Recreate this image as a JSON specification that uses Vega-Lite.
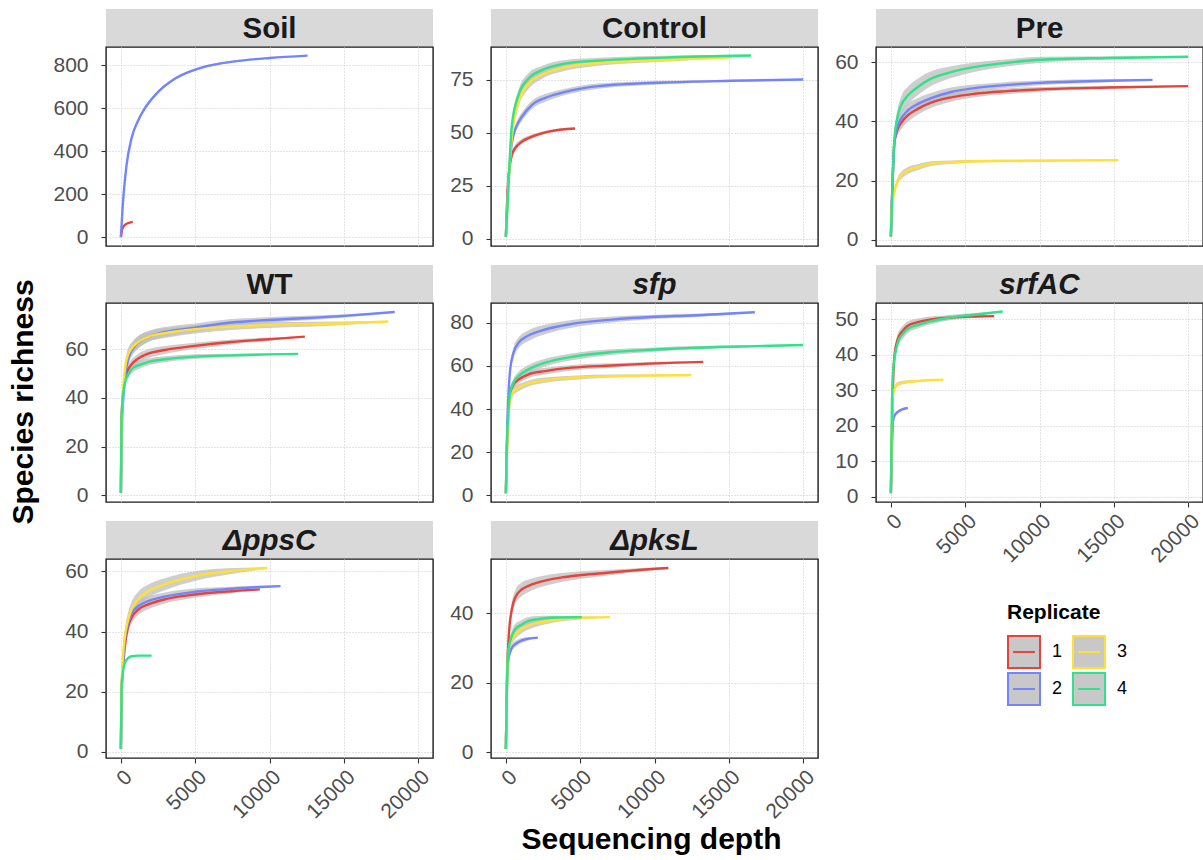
{
"$schema": "https://vega.github.io/schema/vega-lite/v6.json",
"background": "white",
"padding": {"left": 9, "top": 9, "right": 1, "bottom": 5},
"data": {"values": [
{"p":"Soil","r":"1","x":1,"y":1,"lo":1,"hi":1},{"p":"Soil","r":"1","x":100,"y":40,"lo":37,"hi":43},{"p":"Soil","r":"1","x":300,"y":60,"lo":57,"hi":63},{"p":"Soil","r":"1","x":550,"y":68,"lo":66,"hi":70},{"p":"Soil","r":"1","x":800,"y":72,"lo":71,"hi":73},
{"p":"Soil","r":"2","x":1,"y":1,"lo":1,"hi":1},{"p":"Soil","r":"2","x":160,"y":180,"lo":176,"hi":184},{"p":"Soil","r":"2","x":380,"y":335,"lo":329,"hi":341},{"p":"Soil","r":"2","x":720,"y":462,"lo":454,"hi":470},{"p":"Soil","r":"2","x":1170,"y":545,"lo":537,"hi":553},{"p":"Soil","r":"2","x":1610,"y":600,"lo":592,"hi":608},{"p":"Soil","r":"2","x":2510,"y":677,"lo":670,"hi":684},{"p":"Soil","r":"2","x":3630,"y":738,"lo":732,"hi":744},{"p":"Soil","r":"2","x":5430,"y":790,"lo":785,"hi":795},{"p":"Soil","r":"2","x":7670,"y":819,"lo":815,"hi":823},{"p":"Soil","r":"2","x":10020,"y":835,"lo":832,"hi":838},{"p":"Soil","r":"2","x":12560,"y":846,"lo":845,"hi":847},
{"p":"Control","r":"1","x":1,"y":1,"lo":1,"hi":1},{"p":"Control","r":"1","x":134,"y":25,"lo":24,"hi":26},{"p":"Control","r":"1","x":403,"y":39.5,"lo":38,"hi":41},{"p":"Control","r":"1","x":627,"y":42.7,"lo":41.2,"hi":44.2},{"p":"Control","r":"1","x":1075,"y":45.8,"lo":44.6,"hi":47},{"p":"Control","r":"1","x":1747,"y":48.1,"lo":47.1,"hi":49.1},{"p":"Control","r":"1","x":2867,"y":50.5,"lo":49.8,"hi":51.2},{"p":"Control","r":"1","x":4658,"y":52,"lo":51.7,"hi":52.3},
{"p":"Control","r":"2","x":1,"y":1,"lo":1,"hi":1},{"p":"Control","r":"2","x":134,"y":22,"lo":21,"hi":23},{"p":"Control","r":"2","x":403,"y":45,"lo":43.5,"hi":46.5},{"p":"Control","r":"2","x":851,"y":55,"lo":53,"hi":57},{"p":"Control","r":"2","x":1075,"y":57.5,"lo":55.5,"hi":59.5},{"p":"Control","r":"2","x":1747,"y":63,"lo":61,"hi":65},{"p":"Control","r":"2","x":2867,"y":66.9,"lo":65.1,"hi":68.7},{"p":"Control","r":"2","x":3987,"y":69.2,"lo":67.7,"hi":70.7},{"p":"Control","r":"2","x":6226,"y":71.9,"lo":70.7,"hi":73.1},{"p":"Control","r":"2","x":10705,"y":73.6,"lo":72.8,"hi":74.4},{"p":"Control","r":"2","x":15183,"y":74.4,"lo":73.9,"hi":74.9},{"p":"Control","r":"2","x":20000,"y":75,"lo":74.8,"hi":75.2},
{"p":"Control","r":"3","x":1,"y":1,"lo":1,"hi":1},{"p":"Control","r":"3","x":134,"y":20,"lo":19,"hi":21},{"p":"Control","r":"3","x":403,"y":48,"lo":46,"hi":50},{"p":"Control","r":"3","x":851,"y":64.5,"lo":62,"hi":67},{"p":"Control","r":"3","x":1523,"y":73,"lo":70.5,"hi":75.5},{"p":"Control","r":"3","x":2419,"y":77.3,"lo":75.3,"hi":79.3},{"p":"Control","r":"3","x":3987,"y":80.8,"lo":79.1,"hi":82.5},{"p":"Control","r":"3","x":6226,"y":82.8,"lo":81.5,"hi":84.1},{"p":"Control","r":"3","x":10705,"y":84.3,"lo":83.4,"hi":85.2},{"p":"Control","r":"3","x":15183,"y":85.5,"lo":85.1,"hi":85.9},
{"p":"Control","r":"4","x":1,"y":1,"lo":1,"hi":1},{"p":"Control","r":"4","x":134,"y":19,"lo":18,"hi":20},{"p":"Control","r":"4","x":403,"y":53.6,"lo":51.6,"hi":55.6},{"p":"Control","r":"4","x":851,"y":67.7,"lo":65.2,"hi":70.2},{"p":"Control","r":"4","x":1523,"y":75.5,"lo":73,"hi":78},{"p":"Control","r":"4","x":2419,"y":79.4,"lo":77.4,"hi":81.4},{"p":"Control","r":"4","x":3987,"y":82.5,"lo":80.8,"hi":84.2},{"p":"Control","r":"4","x":6226,"y":83.9,"lo":82.6,"hi":85.2},{"p":"Control","r":"4","x":10705,"y":85.3,"lo":84.4,"hi":86.2},{"p":"Control","r":"4","x":16482,"y":86.3,"lo":86,"hi":86.6},
{"p":"Pre","r":"1","x":1,"y":1,"lo":1,"hi":1},{"p":"Pre","r":"1","x":242,"y":33,"lo":31.5,"hi":34.5},{"p":"Pre","r":"1","x":470,"y":37.5,"lo":35.5,"hi":39.5},{"p":"Pre","r":"1","x":691,"y":39.5,"lo":37.3,"hi":41.7},{"p":"Pre","r":"1","x":1141,"y":42,"lo":39.8,"hi":44.2},{"p":"Pre","r":"1","x":1812,"y":44.2,"lo":42.2,"hi":46.2},{"p":"Pre","r":"1","x":2705,"y":46.3,"lo":44.5,"hi":48.1},{"p":"Pre","r":"1","x":4047,"y":48.1,"lo":46.6,"hi":49.6},{"p":"Pre","r":"1","x":5611,"y":49.3,"lo":48.1,"hi":50.5},{"p":"Pre","r":"1","x":7852,"y":50.2,"lo":49.2,"hi":51.2},{"p":"Pre","r":"1","x":10087,"y":50.8,"lo":50,"hi":51.6},{"p":"Pre","r":"1","x":14564,"y":51.4,"lo":50.9,"hi":51.9},{"p":"Pre","r":"1","x":20000,"y":51.9,"lo":51.7,"hi":52.1},
{"p":"Pre","r":"2","x":1,"y":1,"lo":1,"hi":1},{"p":"Pre","r":"2","x":242,"y":33,"lo":31.5,"hi":34.5},{"p":"Pre","r":"2","x":470,"y":38.6,"lo":36.6,"hi":40.6},{"p":"Pre","r":"2","x":691,"y":40.9,"lo":38.7,"hi":43.1},{"p":"Pre","r":"2","x":1141,"y":43.7,"lo":41.5,"hi":45.9},{"p":"Pre","r":"2","x":1812,"y":45.9,"lo":43.9,"hi":47.9},{"p":"Pre","r":"2","x":2705,"y":47.8,"lo":46,"hi":49.6},{"p":"Pre","r":"2","x":4047,"y":49.9,"lo":48.4,"hi":51.4},{"p":"Pre","r":"2","x":5611,"y":51.2,"lo":50,"hi":52.4},{"p":"Pre","r":"2","x":7852,"y":52.3,"lo":51.3,"hi":53.3},{"p":"Pre","r":"2","x":10087,"y":53,"lo":52.2,"hi":53.8},{"p":"Pre","r":"2","x":14564,"y":53.7,"lo":53.2,"hi":54.2},{"p":"Pre","r":"2","x":17600,"y":54,"lo":53.8,"hi":54.2},
{"p":"Pre","r":"3","x":1,"y":1,"lo":1,"hi":1},{"p":"Pre","r":"3","x":20,"y":8.2,"lo":7.7,"hi":8.7},{"p":"Pre","r":"3","x":242,"y":16.1,"lo":15.1,"hi":17.1},{"p":"Pre","r":"3","x":470,"y":20,"lo":18.8,"hi":21.2},{"p":"Pre","r":"3","x":691,"y":21.7,"lo":20.5,"hi":22.9},{"p":"Pre","r":"3","x":1141,"y":23.4,"lo":22.2,"hi":24.6},{"p":"Pre","r":"3","x":1812,"y":24.5,"lo":23.5,"hi":25.5},{"p":"Pre","r":"3","x":2705,"y":25.7,"lo":24.9,"hi":26.5},{"p":"Pre","r":"3","x":4047,"y":26.2,"lo":25.6,"hi":26.8},{"p":"Pre","r":"3","x":5611,"y":26.5,"lo":26.1,"hi":26.9},{"p":"Pre","r":"3","x":10087,"y":26.7,"lo":26.4,"hi":27},{"p":"Pre","r":"3","x":15300,"y":26.9,"lo":26.8,"hi":27},
{"p":"Pre","r":"4","x":1,"y":1,"lo":1,"hi":1},{"p":"Pre","r":"4","x":242,"y":34.1,"lo":32.6,"hi":35.6},{"p":"Pre","r":"4","x":470,"y":42,"lo":39.5,"hi":44.5},{"p":"Pre","r":"4","x":691,"y":45.4,"lo":42.4,"hi":48.4},{"p":"Pre","r":"4","x":1141,"y":48.7,"lo":45.7,"hi":51.7},{"p":"Pre","r":"4","x":1812,"y":51.6,"lo":48.8,"hi":54.4},{"p":"Pre","r":"4","x":2705,"y":54.4,"lo":51.9,"hi":56.9},{"p":"Pre","r":"4","x":4047,"y":56.6,"lo":54.6,"hi":58.6},{"p":"Pre","r":"4","x":5611,"y":58.3,"lo":56.7,"hi":59.9},{"p":"Pre","r":"4","x":7852,"y":59.8,"lo":58.6,"hi":61},{"p":"Pre","r":"4","x":10087,"y":60.8,"lo":59.8,"hi":61.8},{"p":"Pre","r":"4","x":14564,"y":61.4,"lo":60.8,"hi":62},{"p":"Pre","r":"4","x":20000,"y":61.8,"lo":61.6,"hi":62},
{"p":"WT","r":"1","x":1,"y":1,"lo":1,"hi":1},{"p":"WT","r":"1","x":47,"y":32.6,"lo":31.6,"hi":33.6},{"p":"WT","r":"1","x":269,"y":47.7,"lo":45.7,"hi":49.7},{"p":"WT","r":"1","x":494,"y":51.8,"lo":49.8,"hi":53.8},{"p":"WT","r":"1","x":718,"y":53.8,"lo":51.8,"hi":55.8},{"p":"WT","r":"1","x":1166,"y":56.2,"lo":54.2,"hi":58.2},{"p":"WT","r":"1","x":1839,"y":58.2,"lo":56.4,"hi":60},{"p":"WT","r":"1","x":2959,"y":59.7,"lo":58.1,"hi":61.3},{"p":"WT","r":"1","x":4977,"y":61.4,"lo":60.1,"hi":62.7},{"p":"WT","r":"1","x":7445,"y":63,"lo":62,"hi":64},{"p":"WT","r":"1","x":9913,"y":64.1,"lo":63.4,"hi":64.8},{"p":"WT","r":"1","x":12380,"y":65.2,"lo":65,"hi":65.4},
{"p":"WT","r":"2","x":1,"y":1,"lo":1,"hi":1},{"p":"WT","r":"2","x":47,"y":24.4,"lo":23.4,"hi":25.4},{"p":"WT","r":"2","x":269,"y":47.7,"lo":45.7,"hi":49.7},{"p":"WT","r":"2","x":494,"y":55.9,"lo":53.4,"hi":58.4},{"p":"WT","r":"2","x":718,"y":59.3,"lo":56.8,"hi":61.8},{"p":"WT","r":"2","x":1166,"y":62.7,"lo":60.2,"hi":65.2},{"p":"WT","r":"2","x":1839,"y":65.2,"lo":63,"hi":67.4},{"p":"WT","r":"2","x":2959,"y":67.1,"lo":65.1,"hi":69.1},{"p":"WT","r":"2","x":4977,"y":68.9,"lo":67.2,"hi":70.6},{"p":"WT","r":"2","x":7445,"y":71,"lo":69.6,"hi":72.4},{"p":"WT","r":"2","x":9913,"y":72,"lo":70.8,"hi":73.2},{"p":"WT","r":"2","x":15064,"y":73.7,"lo":73,"hi":74.4},{"p":"WT","r":"2","x":18426,"y":75.3,"lo":75.1,"hi":75.5},
{"p":"WT","r":"3","x":1,"y":1,"lo":1,"hi":1},{"p":"WT","r":"3","x":47,"y":28.5,"lo":27.5,"hi":29.5},{"p":"WT","r":"3","x":269,"y":51.8,"lo":49.8,"hi":53.8},{"p":"WT","r":"3","x":494,"y":57.9,"lo":55.4,"hi":60.4},{"p":"WT","r":"3","x":718,"y":60.3,"lo":57.8,"hi":62.8},{"p":"WT","r":"3","x":1166,"y":63,"lo":60.5,"hi":65.5},{"p":"WT","r":"3","x":1839,"y":65.2,"lo":63,"hi":67.4},{"p":"WT","r":"3","x":2959,"y":66.6,"lo":64.6,"hi":68.6},{"p":"WT","r":"3","x":4977,"y":68.2,"lo":66.5,"hi":69.9},{"p":"WT","r":"3","x":7445,"y":69.3,"lo":67.9,"hi":70.7},{"p":"WT","r":"3","x":9913,"y":69.9,"lo":68.7,"hi":71.1},{"p":"WT","r":"3","x":15064,"y":70.7,"lo":70,"hi":71.4},{"p":"WT","r":"3","x":17980,"y":71.4,"lo":71.2,"hi":71.6},
{"p":"WT","r":"4","x":1,"y":1,"lo":1,"hi":1},{"p":"WT","r":"4","x":47,"y":32.6,"lo":31.6,"hi":33.6},{"p":"WT","r":"4","x":269,"y":46.3,"lo":44.8,"hi":47.8},{"p":"WT","r":"4","x":494,"y":49.7,"lo":47.9,"hi":51.5},{"p":"WT","r":"4","x":718,"y":51.8,"lo":50,"hi":53.6},{"p":"WT","r":"4","x":1166,"y":53.4,"lo":51.8,"hi":55},{"p":"WT","r":"4","x":1839,"y":54.8,"lo":53.4,"hi":56.2},{"p":"WT","r":"4","x":2959,"y":55.9,"lo":54.7,"hi":57.1},{"p":"WT","r":"4","x":4977,"y":57,"lo":56,"hi":58},{"p":"WT","r":"4","x":7445,"y":57.5,"lo":56.8,"hi":58.2},{"p":"WT","r":"4","x":9913,"y":57.9,"lo":57.5,"hi":58.3},{"p":"WT","r":"4","x":11930,"y":58.1,"lo":58,"hi":58.2},
{"p":"sfp","r":"1","x":1,"y":1,"lo":1,"hi":1},{"p":"sfp","r":"1","x":67,"y":20,"lo":19,"hi":21},{"p":"sfp","r":"1","x":291,"y":47.6,"lo":45.6,"hi":49.6},{"p":"sfp","r":"1","x":515,"y":51.4,"lo":49.4,"hi":53.4},{"p":"sfp","r":"1","x":851,"y":53.7,"lo":51.7,"hi":55.7},{"p":"sfp","r":"1","x":1523,"y":56.1,"lo":54.3,"hi":57.9},{"p":"sfp","r":"1","x":2643,"y":57.6,"lo":56,"hi":59.2},{"p":"sfp","r":"1","x":4434,"y":59.2,"lo":57.9,"hi":60.5},{"p":"sfp","r":"1","x":7121,"y":60.2,"lo":59.2,"hi":61.2},{"p":"sfp","r":"1","x":10030,"y":61.2,"lo":60.5,"hi":61.9},{"p":"sfp","r":"1","x":13280,"y":61.9,"lo":61.7,"hi":62.1},
{"p":"sfp","r":"2","x":1,"y":1,"lo":1,"hi":1},{"p":"sfp","r":"2","x":67,"y":24.4,"lo":23.4,"hi":25.4},{"p":"sfp","r":"2","x":291,"y":58.4,"lo":56.4,"hi":60.4},{"p":"sfp","r":"2","x":515,"y":66.1,"lo":63.6,"hi":68.6},{"p":"sfp","r":"2","x":851,"y":70.7,"lo":68.2,"hi":73.2},{"p":"sfp","r":"2","x":1523,"y":74.1,"lo":71.6,"hi":76.6},{"p":"sfp","r":"2","x":2643,"y":76.9,"lo":74.7,"hi":79.1},{"p":"sfp","r":"2","x":4434,"y":79.5,"lo":77.7,"hi":81.3},{"p":"sfp","r":"2","x":7121,"y":81.5,"lo":80.1,"hi":82.9},{"p":"sfp","r":"2","x":10030,"y":82.8,"lo":81.8,"hi":83.8},{"p":"sfp","r":"2","x":12496,"y":83.4,"lo":82.6,"hi":84.2},{"p":"sfp","r":"2","x":16750,"y":84.9,"lo":84.7,"hi":85.1},
{"p":"sfp","r":"3","x":1,"y":1,"lo":1,"hi":1},{"p":"sfp","r":"3","x":67,"y":18,"lo":17,"hi":19},{"p":"sfp","r":"3","x":291,"y":44.5,"lo":42.7,"hi":46.3},{"p":"sfp","r":"3","x":515,"y":48.3,"lo":46.5,"hi":50.1},{"p":"sfp","r":"3","x":851,"y":49.9,"lo":48.3,"hi":51.5},{"p":"sfp","r":"3","x":1523,"y":51.9,"lo":50.5,"hi":53.3},{"p":"sfp","r":"3","x":2643,"y":53.4,"lo":52.2,"hi":54.6},{"p":"sfp","r":"3","x":4434,"y":54.5,"lo":53.5,"hi":55.5},{"p":"sfp","r":"3","x":7121,"y":55.3,"lo":54.6,"hi":56},{"p":"sfp","r":"3","x":10030,"y":55.6,"lo":55.2,"hi":56},{"p":"sfp","r":"3","x":12480,"y":55.8,"lo":55.7,"hi":55.9},
{"p":"sfp","r":"4","x":1,"y":1,"lo":1,"hi":1},{"p":"sfp","r":"4","x":67,"y":22.9,"lo":21.9,"hi":23.9},{"p":"sfp","r":"4","x":291,"y":47.6,"lo":45.6,"hi":49.6},{"p":"sfp","r":"4","x":515,"y":52.2,"lo":50.2,"hi":54.2},{"p":"sfp","r":"4","x":851,"y":55.3,"lo":53.3,"hi":57.3},{"p":"sfp","r":"4","x":1523,"y":58.4,"lo":56.4,"hi":60.4},{"p":"sfp","r":"4","x":2643,"y":61.5,"lo":59.7,"hi":63.3},{"p":"sfp","r":"4","x":4434,"y":64.2,"lo":62.6,"hi":65.8},{"p":"sfp","r":"4","x":7121,"y":66.4,"lo":65.1,"hi":67.7},{"p":"sfp","r":"4","x":10030,"y":67.6,"lo":66.6,"hi":68.6},{"p":"sfp","r":"4","x":12496,"y":68.4,"lo":67.6,"hi":69.2},{"p":"sfp","r":"4","x":16750,"y":69.2,"lo":68.7,"hi":69.7},{"p":"sfp","r":"4","x":20000,"y":69.7,"lo":69.5,"hi":69.9},
{"p":"srfAC","r":"1","x":1,"y":1,"lo":1,"hi":1},{"p":"srfAC","r":"1","x":134,"y":30,"lo":29,"hi":31},{"p":"srfAC","r":"1","x":242,"y":39.7,"lo":38.2,"hi":41.2},{"p":"srfAC","r":"1","x":470,"y":44.4,"lo":42.9,"hi":45.9},{"p":"srfAC","r":"1","x":805,"y":46.8,"lo":45.4,"hi":48.2},{"p":"srfAC","r":"1","x":1141,"y":48.2,"lo":47,"hi":49.4},{"p":"srfAC","r":"1","x":1812,"y":49.2,"lo":48.2,"hi":50.2},{"p":"srfAC","r":"1","x":3400,"y":50.3,"lo":49.6,"hi":51},{"p":"srfAC","r":"1","x":5611,"y":50.8,"lo":50.4,"hi":51.2},{"p":"srfAC","r":"1","x":6953,"y":50.9,"lo":50.8,"hi":51},
{"p":"srfAC","r":"2","x":1,"y":1,"lo":1,"hi":1},{"p":"srfAC","r":"2","x":134,"y":20.9,"lo":20.3,"hi":21.5},{"p":"srfAC","r":"2","x":242,"y":22.8,"lo":22.2,"hi":23.4},{"p":"srfAC","r":"2","x":470,"y":23.9,"lo":23.4,"hi":24.4},{"p":"srfAC","r":"2","x":805,"y":24.7,"lo":24.4,"hi":25},{"p":"srfAC","r":"2","x":1141,"y":25,"lo":24.9,"hi":25.1},
{"p":"srfAC","r":"3","x":1,"y":1,"lo":1,"hi":1},{"p":"srfAC","r":"3","x":134,"y":28.4,"lo":27.6,"hi":29.2},{"p":"srfAC","r":"3","x":242,"y":30.3,"lo":29.5,"hi":31.1},{"p":"srfAC","r":"3","x":470,"y":31.7,"lo":31.1,"hi":32.3},{"p":"srfAC","r":"3","x":805,"y":32.2,"lo":31.7,"hi":32.7},{"p":"srfAC","r":"3","x":1141,"y":32.4,"lo":32,"hi":32.8},{"p":"srfAC","r":"3","x":1812,"y":32.6,"lo":32.3,"hi":32.9},{"p":"srfAC","r":"3","x":2705,"y":32.9,"lo":32.7,"hi":33.1},{"p":"srfAC","r":"3","x":3530,"y":33,"lo":32.9,"hi":33.1},
{"p":"srfAC","r":"4","x":1,"y":1,"lo":1,"hi":1},{"p":"srfAC","r":"4","x":67,"y":24.7,"lo":23.7,"hi":25.7},{"p":"srfAC","r":"4","x":134,"y":34.1,"lo":32.9,"hi":35.3},{"p":"srfAC","r":"4","x":242,"y":38.8,"lo":37.3,"hi":40.3},{"p":"srfAC","r":"4","x":470,"y":43.5,"lo":42,"hi":45},{"p":"srfAC","r":"4","x":805,"y":45.9,"lo":44.5,"hi":47.3},{"p":"srfAC","r":"4","x":1141,"y":47.3,"lo":46.1,"hi":48.5},{"p":"srfAC","r":"4","x":1812,"y":48.4,"lo":47.4,"hi":49.4},{"p":"srfAC","r":"4","x":3400,"y":50.1,"lo":49.3,"hi":50.9},{"p":"srfAC","r":"4","x":5611,"y":51.3,"lo":50.8,"hi":51.8},{"p":"srfAC","r":"4","x":7517,"y":52.2,"lo":52.1,"hi":52.3},
{"p":"ΔppsC","r":"1","x":1,"y":1,"lo":1,"hi":1},{"p":"ΔppsC","r":"1","x":47,"y":20,"lo":19,"hi":21},{"p":"ΔppsC","r":"1","x":160,"y":29,"lo":27.5,"hi":30.5},{"p":"ΔppsC","r":"1","x":269,"y":35.1,"lo":33.3,"hi":36.9},{"p":"ΔppsC","r":"1","x":494,"y":41.8,"lo":39.8,"hi":43.8},{"p":"ΔppsC","r":"1","x":718,"y":44.6,"lo":42.6,"hi":46.6},{"p":"ΔppsC","r":"1","x":1166,"y":47.3,"lo":45.5,"hi":49.1},{"p":"ΔppsC","r":"1","x":1839,"y":49,"lo":47.4,"hi":50.6},{"p":"ΔppsC","r":"1","x":2959,"y":50.7,"lo":49.3,"hi":52.1},{"p":"ΔppsC","r":"1","x":4977,"y":52.3,"lo":51.2,"hi":53.4},{"p":"ΔppsC","r":"1","x":7445,"y":53.4,"lo":52.7,"hi":54.1},{"p":"ΔppsC","r":"1","x":9350,"y":54,"lo":53.9,"hi":54.1},
{"p":"ΔppsC","r":"2","x":1,"y":1,"lo":1,"hi":1},{"p":"ΔppsC","r":"2","x":47,"y":20,"lo":19,"hi":21},{"p":"ΔppsC","r":"2","x":160,"y":30,"lo":28.5,"hi":31.5},{"p":"ΔppsC","r":"2","x":269,"y":37.3,"lo":35.5,"hi":39.1},{"p":"ΔppsC","r":"2","x":494,"y":42.9,"lo":40.9,"hi":44.9},{"p":"ΔppsC","r":"2","x":718,"y":46,"lo":44,"hi":48},{"p":"ΔppsC","r":"2","x":1166,"y":48.4,"lo":46.6,"hi":50.2},{"p":"ΔppsC","r":"2","x":1839,"y":50.1,"lo":48.5,"hi":51.7},{"p":"ΔppsC","r":"2","x":2959,"y":51.6,"lo":50.2,"hi":53},{"p":"ΔppsC","r":"2","x":4977,"y":53.2,"lo":52.1,"hi":54.3},{"p":"ΔppsC","r":"2","x":7445,"y":54.2,"lo":53.5,"hi":54.9},{"p":"ΔppsC","r":"2","x":9350,"y":54.8,"lo":54.4,"hi":55.2},{"p":"ΔppsC","r":"2","x":10740,"y":55.1,"lo":55,"hi":55.2},
{"p":"ΔppsC","r":"3","x":1,"y":1,"lo":1,"hi":1},{"p":"ΔppsC","r":"3","x":47,"y":21.8,"lo":20.8,"hi":22.8},{"p":"ΔppsC","r":"3","x":160,"y":32.9,"lo":31.4,"hi":34.4},{"p":"ΔppsC","r":"3","x":269,"y":38.4,"lo":36.4,"hi":40.4},{"p":"ΔppsC","r":"3","x":494,"y":44,"lo":41.5,"hi":46.5},{"p":"ΔppsC","r":"3","x":718,"y":47.3,"lo":44.8,"hi":49.8},{"p":"ΔppsC","r":"3","x":1166,"y":50.7,"lo":48.2,"hi":53.2},{"p":"ΔppsC","r":"3","x":1839,"y":53.4,"lo":51.2,"hi":55.6},{"p":"ΔppsC","r":"3","x":2959,"y":55.7,"lo":53.7,"hi":57.7},{"p":"ΔppsC","r":"3","x":4977,"y":58.4,"lo":56.8,"hi":60},{"p":"ΔppsC","r":"3","x":7445,"y":60.1,"lo":59.1,"hi":61.1},{"p":"ΔppsC","r":"3","x":9843,"y":61.1,"lo":60.9,"hi":61.3},
{"p":"ΔppsC","r":"4","x":1,"y":1,"lo":1,"hi":1},{"p":"ΔppsC","r":"4","x":47,"y":20.7,"lo":19.9,"hi":21.5},{"p":"ΔppsC","r":"4","x":160,"y":27.3,"lo":26.5,"hi":28.1},{"p":"ΔppsC","r":"4","x":269,"y":29.6,"lo":29,"hi":30.2},{"p":"ΔppsC","r":"4","x":494,"y":31.2,"lo":30.8,"hi":31.6},{"p":"ΔppsC","r":"4","x":718,"y":31.8,"lo":31.5,"hi":32.1},{"p":"ΔppsC","r":"4","x":1166,"y":32,"lo":31.8,"hi":32.2},{"p":"ΔppsC","r":"4","x":2063,"y":32,"lo":31.9,"hi":32.1},
{"p":"ΔpksL","r":"1","x":1,"y":1,"lo":1,"hi":1},{"p":"ΔpksL","r":"1","x":67,"y":20,"lo":19,"hi":21},{"p":"ΔpksL","r":"1","x":179,"y":32.5,"lo":31,"hi":34},{"p":"ΔpksL","r":"1","x":403,"y":41.2,"lo":39.2,"hi":43.2},{"p":"ΔpksL","r":"1","x":627,"y":44.5,"lo":42.5,"hi":46.5},{"p":"ΔpksL","r":"1","x":1075,"y":46.9,"lo":44.9,"hi":48.9},{"p":"ΔpksL","r":"1","x":1523,"y":47.9,"lo":46.1,"hi":49.7},{"p":"ΔpksL","r":"1","x":2867,"y":49.6,"lo":48.1,"hi":51.1},{"p":"ΔpksL","r":"1","x":3762,"y":50.3,"lo":49,"hi":51.6},{"p":"ΔpksL","r":"1","x":5106,"y":51,"lo":49.9,"hi":52.1},{"p":"ΔpksL","r":"1","x":7010,"y":51.7,"lo":50.9,"hi":52.5},{"p":"ΔpksL","r":"1","x":8241,"y":52.2,"lo":51.6,"hi":52.8},{"p":"ΔpksL","r":"1","x":10930,"y":53,"lo":52.8,"hi":53.2},
{"p":"ΔpksL","r":"2","x":1,"y":1,"lo":1,"hi":1},{"p":"ΔpksL","r":"2","x":67,"y":17,"lo":16.2,"hi":17.8},{"p":"ΔpksL","r":"2","x":179,"y":27,"lo":26,"hi":28},{"p":"ΔpksL","r":"2","x":403,"y":30.1,"lo":29.1,"hi":31.1},{"p":"ΔpksL","r":"2","x":627,"y":31.1,"lo":30.2,"hi":32},{"p":"ΔpksL","r":"2","x":1075,"y":32.2,"lo":31.5,"hi":32.9},{"p":"ΔpksL","r":"2","x":1523,"y":32.7,"lo":32.2,"hi":33.2},{"p":"ΔpksL","r":"2","x":2150,"y":33,"lo":32.9,"hi":33.1},
{"p":"ΔpksL","r":"3","x":1,"y":1,"lo":1,"hi":1},{"p":"ΔpksL","r":"3","x":67,"y":17,"lo":16,"hi":18},{"p":"ΔpksL","r":"3","x":179,"y":29.6,"lo":28.4,"hi":30.8},{"p":"ΔpksL","r":"3","x":403,"y":32.5,"lo":31.1,"hi":33.9},{"p":"ΔpksL","r":"3","x":627,"y":33.9,"lo":32.5,"hi":35.3},{"p":"ΔpksL","r":"3","x":1075,"y":35.6,"lo":34.3,"hi":36.9},{"p":"ΔpksL","r":"3","x":1523,"y":36.5,"lo":35.3,"hi":37.7},{"p":"ΔpksL","r":"3","x":2150,"y":37.3,"lo":36.3,"hi":38.3},{"p":"ΔpksL","r":"3","x":2867,"y":37.8,"lo":37,"hi":38.6},{"p":"ΔpksL","r":"3","x":3762,"y":38.3,"lo":37.7,"hi":38.9},{"p":"ΔpksL","r":"3","x":5106,"y":38.7,"lo":38.3,"hi":39.1},{"p":"ΔpksL","r":"3","x":7010,"y":38.9,"lo":38.8,"hi":39},
{"p":"ΔpksL","r":"4","x":1,"y":1,"lo":1,"hi":1},{"p":"ΔpksL","r":"4","x":67,"y":18,"lo":17,"hi":19},{"p":"ΔpksL","r":"4","x":179,"y":29.6,"lo":28.4,"hi":30.8},{"p":"ΔpksL","r":"4","x":403,"y":33.5,"lo":32,"hi":35},{"p":"ΔpksL","r":"4","x":627,"y":35.4,"lo":33.9,"hi":36.9},{"p":"ΔpksL","r":"4","x":1075,"y":36.8,"lo":35.5,"hi":38.1},{"p":"ΔpksL","r":"4","x":1523,"y":37.8,"lo":36.7,"hi":38.9},{"p":"ΔpksL","r":"4","x":2150,"y":38.3,"lo":37.4,"hi":39.2},{"p":"ΔpksL","r":"4","x":2867,"y":38.7,"lo":38.1,"hi":39.3},{"p":"ΔpksL","r":"4","x":3762,"y":38.8,"lo":38.4,"hi":39.2},{"p":"ΔpksL","r":"4","x":5106,"y":38.9,"lo":38.8,"hi":39}
]},
"title": {"text": "Sequencing depth", "orient": "bottom", "anchor": "middle", "frame": "bounds", "font": "Liberation Sans", "fontSize": 30, "fontWeight": "bold", "color": "black", "offset": 2, "dx": 45},
"vconcat": [{
"title": {"text": "Species richness", "orient": "left", "anchor": "middle", "frame": "bounds", "font": "Liberation Sans", "fontSize": 30, "fontWeight": "bold", "color": "black", "offset": 13, "dx": 14},
"columns": 3,
"spacing": {"row": 0, "column": 58},
"bounds": "flush",
"concat": [
 {"width": 327, "height": 38, "data": {"values": [{"t": "Soil"}]}, "view": {"fill": "#d9d9d9", "stroke": null}, "mark": {"type": "text", "font": "Liberation Sans", "fontSize": 29.5, "fontWeight": "bold", "color": "#1a1a1a", "baseline": "middle", "dy": 1}, "encoding": {"text": {"field": "t", "type": "nominal"}}},
 {"width": 327, "height": 38, "data": {"values": [{"t": "Control"}]}, "view": {"fill": "#d9d9d9", "stroke": null}, "mark": {"type": "text", "font": "Liberation Sans", "fontSize": 29.5, "fontWeight": "bold", "color": "#1a1a1a", "baseline": "middle", "dy": 1}, "encoding": {"text": {"field": "t", "type": "nominal"}}},
 {"width": 327, "height": 38, "data": {"values": [{"t": "Pre"}]}, "view": {"fill": "#d9d9d9", "stroke": null}, "mark": {"type": "text", "font": "Liberation Sans", "fontSize": 29.5, "fontWeight": "bold", "color": "#1a1a1a", "baseline": "middle", "dy": 1}, "encoding": {"text": {"field": "t", "type": "nominal"}}},
 {"width": 327, "height": 199, "transform": [{"filter": "datum.p === 'Soil'"}],
  "encoding": {"x": {"field": "x", "type": "quantitative", "scale": {"domain": [-1000, 21000], "nice": false, "zero": false}, "axis": {"values": [0, 5000, 10000, 15000, 20000], "labels": false, "ticks": false, "title": null}}},
  "layer": [
   {"mark": {"type": "area", "fill": "#bebebe", "opacity": 0.75, "interpolate": "monotone"}, "encoding": {"y": {"field": "lo", "type": "quantitative", "scale": {"domain": [-40, 886], "nice": false, "zero": false}, "axis": {"values": [0, 200, 400, 600, 800], "title": null}}, "y2": {"field": "hi"}, "detail": {"field": "r", "type": "nominal"}}},
   {"mark": {"type": "line", "strokeWidth": 2.4, "interpolate": "monotone"}, "encoding": {"y": {"field": "y", "type": "quantitative", "axis": {"values": [0, 200, 400, 600, 800], "title": null}}, "color": {"field": "r", "type": "nominal", "scale": {"domain": ["1", "2", "3", "4"], "range": ["#e8433b", "#7285ff", "#ffe033", "#2ee38a"]}, "legend": {"title": "Replicate"}}}}
  ]},
 {"width": 327, "height": 199, "transform": [{"filter": "datum.p === 'Control'"}],
  "encoding": {"x": {"field": "x", "type": "quantitative", "scale": {"domain": [-1000, 21000], "nice": false, "zero": false}, "axis": {"values": [0, 5000, 10000, 15000, 20000], "labels": false, "ticks": false, "title": null}}},
  "layer": [
   {"mark": {"type": "area", "fill": "#bebebe", "opacity": 0.75, "interpolate": "monotone"}, "encoding": {"y": {"field": "lo", "type": "quantitative", "scale": {"domain": [-3.3, 90.3], "nice": false, "zero": false}, "axis": {"values": [0, 25, 50, 75], "title": null}}, "y2": {"field": "hi"}, "detail": {"field": "r", "type": "nominal"}}},
   {"mark": {"type": "line", "strokeWidth": 2.4, "interpolate": "monotone"}, "encoding": {"y": {"field": "y", "type": "quantitative", "axis": {"values": [0, 25, 50, 75], "title": null}}, "color": {"field": "r", "type": "nominal", "scale": {"domain": ["1", "2", "3", "4"], "range": ["#e8433b", "#7285ff", "#ffe033", "#2ee38a"]}, "legend": {"title": "Replicate"}}}}
  ]},
 {"width": 327, "height": 199, "transform": [{"filter": "datum.p === 'Pre'"}],
  "encoding": {"x": {"field": "x", "type": "quantitative", "scale": {"domain": [-1000, 21000], "nice": false, "zero": false}, "axis": {"values": [0, 5000, 10000, 15000, 20000], "labels": false, "ticks": false, "title": null}}},
  "layer": [
   {"mark": {"type": "area", "fill": "#bebebe", "opacity": 0.75, "interpolate": "monotone"}, "encoding": {"y": {"field": "lo", "type": "quantitative", "scale": {"domain": [-2.1, 65.1], "nice": false, "zero": false}, "axis": {"values": [0, 20, 40, 60], "title": null}}, "y2": {"field": "hi"}, "detail": {"field": "r", "type": "nominal"}}},
   {"mark": {"type": "line", "strokeWidth": 2.4, "interpolate": "monotone"}, "encoding": {"y": {"field": "y", "type": "quantitative", "axis": {"values": [0, 20, 40, 60], "title": null}}, "color": {"field": "r", "type": "nominal", "scale": {"domain": ["1", "2", "3", "4"], "range": ["#e8433b", "#7285ff", "#ffe033", "#2ee38a"]}, "legend": {"title": "Replicate"}}}}
  ]},
 {"width": 327, "height": 57, "data": {"values": [{"t": "WT"}]}, "view": {"stroke": null},
  "layer": [
   {"mark": {"type": "rect", "color": "#d9d9d9"}, "encoding": {"x": {"datum": 0, "type": "quantitative", "scale": {"domain": [0, 1], "nice": false, "zero": false}, "axis": null}, "x2": {"datum": 1}, "y": {"datum": 0, "type": "quantitative", "scale": {"domain": [0, 57], "nice": false, "zero": false}, "axis": null}, "y2": {"datum": 38}}},
   {"mark": {"type": "text", "font": "Liberation Sans", "fontSize": 29.5, "fontWeight": "bold", "color": "#1a1a1a", "baseline": "middle", "dy": 1}, "encoding": {"x": {"datum": 0.5, "type": "quantitative"}, "y": {"datum": 19, "type": "quantitative"}, "text": {"field": "t", "type": "nominal"}}}
  ]},
 {"width": 327, "height": 57, "data": {"values": [{"t": "sfp"}]}, "view": {"stroke": null},
  "layer": [
   {"mark": {"type": "rect", "color": "#d9d9d9"}, "encoding": {"x": {"datum": 0, "type": "quantitative", "scale": {"domain": [0, 1], "nice": false, "zero": false}, "axis": null}, "x2": {"datum": 1}, "y": {"datum": 0, "type": "quantitative", "scale": {"domain": [0, 57], "nice": false, "zero": false}, "axis": null}, "y2": {"datum": 38}}},
   {"mark": {"type": "text", "font": "Liberation Sans", "fontSize": 29.5, "fontWeight": "bold", "fontStyle": "italic", "color": "#1a1a1a", "baseline": "middle", "dy": 1}, "encoding": {"x": {"datum": 0.5, "type": "quantitative"}, "y": {"datum": 19, "type": "quantitative"}, "text": {"field": "t", "type": "nominal"}}}
  ]},
 {"width": 327, "height": 57, "data": {"values": [{"t": "srfAC"}]}, "view": {"stroke": null},
  "layer": [
   {"mark": {"type": "rect", "color": "#d9d9d9"}, "encoding": {"x": {"datum": 0, "type": "quantitative", "scale": {"domain": [0, 1], "nice": false, "zero": false}, "axis": null}, "x2": {"datum": 1}, "y": {"datum": 0, "type": "quantitative", "scale": {"domain": [0, 57], "nice": false, "zero": false}, "axis": null}, "y2": {"datum": 38}}},
   {"mark": {"type": "text", "font": "Liberation Sans", "fontSize": 29.5, "fontWeight": "bold", "fontStyle": "italic", "color": "#1a1a1a", "baseline": "middle", "dy": 1}, "encoding": {"x": {"datum": 0.5, "type": "quantitative"}, "y": {"datum": 19, "type": "quantitative"}, "text": {"field": "t", "type": "nominal"}}}
  ]},
 {"width": 327, "height": 199, "transform": [{"filter": "datum.p === 'WT'"}],
  "encoding": {"x": {"field": "x", "type": "quantitative", "scale": {"domain": [-1000, 21000], "nice": false, "zero": false}, "axis": {"values": [0, 5000, 10000, 15000, 20000], "labels": false, "ticks": false, "title": null}}},
  "layer": [
   {"mark": {"type": "area", "fill": "#bebebe", "opacity": 0.75, "interpolate": "monotone"}, "encoding": {"y": {"field": "lo", "type": "quantitative", "scale": {"domain": [-2.7, 79], "nice": false, "zero": false}, "axis": {"values": [0, 20, 40, 60], "title": null}}, "y2": {"field": "hi"}, "detail": {"field": "r", "type": "nominal"}}},
   {"mark": {"type": "line", "strokeWidth": 2.4, "interpolate": "monotone"}, "encoding": {"y": {"field": "y", "type": "quantitative", "axis": {"values": [0, 20, 40, 60], "title": null}}, "color": {"field": "r", "type": "nominal", "scale": {"domain": ["1", "2", "3", "4"], "range": ["#e8433b", "#7285ff", "#ffe033", "#2ee38a"]}, "legend": {"title": "Replicate"}}}}
  ]},
 {"width": 327, "height": 199, "transform": [{"filter": "datum.p === 'sfp'"}],
  "encoding": {"x": {"field": "x", "type": "quantitative", "scale": {"domain": [-1000, 21000], "nice": false, "zero": false}, "axis": {"values": [0, 5000, 10000, 15000, 20000], "labels": false, "ticks": false, "title": null}}},
  "layer": [
   {"mark": {"type": "area", "fill": "#bebebe", "opacity": 0.75, "interpolate": "monotone"}, "encoding": {"y": {"field": "lo", "type": "quantitative", "scale": {"domain": [-3.1, 89.2], "nice": false, "zero": false}, "axis": {"values": [0, 20, 40, 60, 80], "title": null}}, "y2": {"field": "hi"}, "detail": {"field": "r", "type": "nominal"}}},
   {"mark": {"type": "line", "strokeWidth": 2.4, "interpolate": "monotone"}, "encoding": {"y": {"field": "y", "type": "quantitative", "axis": {"values": [0, 20, 40, 60, 80], "title": null}}, "color": {"field": "r", "type": "nominal", "scale": {"domain": ["1", "2", "3", "4"], "range": ["#e8433b", "#7285ff", "#ffe033", "#2ee38a"]}, "legend": {"title": "Replicate"}}}}
  ]},
 {"width": 327, "height": 199, "transform": [{"filter": "datum.p === 'srfAC'"}],
  "encoding": {"x": {"field": "x", "type": "quantitative", "scale": {"domain": [-1000, 21000], "nice": false, "zero": false}, "axis": {"values": [0, 5000, 10000, 15000, 20000], "format": "d", "labelAngle": -45, "labelAlign": "right", "labelBaseline": "top", "labelPadding": 3, "title": null}}},
  "layer": [
   {"mark": {"type": "area", "fill": "#bebebe", "opacity": 0.75, "interpolate": "monotone"}, "encoding": {"y": {"field": "lo", "type": "quantitative", "scale": {"domain": [-1.5, 54.6], "nice": false, "zero": false}, "axis": {"values": [0, 10, 20, 30, 40, 50], "title": null}}, "y2": {"field": "hi"}, "detail": {"field": "r", "type": "nominal"}}},
   {"mark": {"type": "line", "strokeWidth": 2.4, "interpolate": "monotone"}, "encoding": {"y": {"field": "y", "type": "quantitative", "axis": {"values": [0, 10, 20, 30, 40, 50], "title": null}}, "color": {"field": "r", "type": "nominal", "scale": {"domain": ["1", "2", "3", "4"], "range": ["#e8433b", "#7285ff", "#ffe033", "#2ee38a"]}, "legend": {"title": "Replicate"}}}}
  ]},
 {"width": 327, "height": 57, "data": {"values": [{"t": "ΔppsC"}]}, "view": {"stroke": null},
  "layer": [
   {"mark": {"type": "rect", "color": "#d9d9d9"}, "encoding": {"x": {"datum": 0, "type": "quantitative", "scale": {"domain": [0, 1], "nice": false, "zero": false}, "axis": null}, "x2": {"datum": 1}, "y": {"datum": 0, "type": "quantitative", "scale": {"domain": [0, 57], "nice": false, "zero": false}, "axis": null}, "y2": {"datum": 38}}},
   {"mark": {"type": "text", "font": "Liberation Sans", "fontSize": 29.5, "fontWeight": "bold", "fontStyle": "italic", "color": "#1a1a1a", "baseline": "middle", "dy": 1}, "encoding": {"x": {"datum": 0.5, "type": "quantitative"}, "y": {"datum": 19, "type": "quantitative"}, "text": {"field": "t", "type": "nominal"}}}
  ]},
 {"width": 327, "height": 57, "data": {"values": [{"t": "ΔpksL"}]}, "view": {"stroke": null},
  "layer": [
   {"mark": {"type": "rect", "color": "#d9d9d9"}, "encoding": {"x": {"datum": 0, "type": "quantitative", "scale": {"domain": [0, 1], "nice": false, "zero": false}, "axis": null}, "x2": {"datum": 1}, "y": {"datum": 0, "type": "quantitative", "scale": {"domain": [0, 57], "nice": false, "zero": false}, "axis": null}, "y2": {"datum": 38}}},
   {"mark": {"type": "text", "font": "Liberation Sans", "fontSize": 29.5, "fontWeight": "bold", "fontStyle": "italic", "color": "#1a1a1a", "baseline": "middle", "dy": 1}, "encoding": {"x": {"datum": 0.5, "type": "quantitative"}, "y": {"datum": 19, "type": "quantitative"}, "text": {"field": "t", "type": "nominal"}}}
  ]},
 {"width": 327, "height": 57, "data": {"values": []}, "view": {"stroke": null}, "mark": {"type": "text"}, "encoding": {}},
 {"width": 327, "height": 199, "transform": [{"filter": "datum.p === 'ΔppsC'"}],
  "encoding": {"x": {"field": "x", "type": "quantitative", "scale": {"domain": [-1000, 21000], "nice": false, "zero": false}, "axis": {"values": [0, 5000, 10000, 15000, 20000], "format": "d", "labelAngle": -45, "labelAlign": "right", "labelBaseline": "top", "labelPadding": 3, "title": null}}},
  "layer": [
   {"mark": {"type": "area", "fill": "#bebebe", "opacity": 0.75, "interpolate": "monotone"}, "encoding": {"y": {"field": "lo", "type": "quantitative", "scale": {"domain": [-2, 64.1], "nice": false, "zero": false}, "axis": {"values": [0, 20, 40, 60], "title": null}}, "y2": {"field": "hi"}, "detail": {"field": "r", "type": "nominal"}}},
   {"mark": {"type": "line", "strokeWidth": 2.4, "interpolate": "monotone"}, "encoding": {"y": {"field": "y", "type": "quantitative", "axis": {"values": [0, 20, 40, 60], "title": null}}, "color": {"field": "r", "type": "nominal", "scale": {"domain": ["1", "2", "3", "4"], "range": ["#e8433b", "#7285ff", "#ffe033", "#2ee38a"]}, "legend": {"title": "Replicate"}}}}
  ]},
 {"width": 327, "height": 199, "transform": [{"filter": "datum.p === 'ΔpksL'"}],
  "encoding": {"x": {"field": "x", "type": "quantitative", "scale": {"domain": [-1000, 21000], "nice": false, "zero": false}, "axis": {"values": [0, 5000, 10000, 15000, 20000], "format": "d", "labelAngle": -45, "labelAlign": "right", "labelBaseline": "top", "labelPadding": 3, "title": null}}},
  "layer": [
   {"mark": {"type": "area", "fill": "#bebebe", "opacity": 0.75, "interpolate": "monotone"}, "encoding": {"y": {"field": "lo", "type": "quantitative", "scale": {"domain": [-1.6, 55.6], "nice": false, "zero": false}, "axis": {"values": [0, 20, 40], "title": null}}, "y2": {"field": "hi"}, "detail": {"field": "r", "type": "nominal"}}},
   {"mark": {"type": "line", "strokeWidth": 2.4, "interpolate": "monotone"}, "encoding": {"y": {"field": "y", "type": "quantitative", "axis": {"values": [0, 20, 40], "title": null}}, "color": {"field": "r", "type": "nominal", "scale": {"domain": ["1", "2", "3", "4"], "range": ["#e8433b", "#7285ff", "#ffe033", "#2ee38a"]}, "legend": {"title": "Replicate"}}}}
  ]}
]
}],
"config": {
 "font": "Liberation Sans",
 "view": {"stroke": "#1a1a1a", "strokeWidth": 1.4},
 "axis": {"grid": true, "gridColor": "#c8c8c8", "gridDash": [1, 2], "gridWidth": 1, "domain": false, "tickColor": "#333333", "tickSize": 5, "tickWidth": 1.1, "labelColor": "#4d4d4d", "labelFont": "Liberation Sans", "labelFontSize": 21, "labelPadding": 13},
 "legend": {"orient": "none", "legendX": 901, "legendY": 593, "columns": 2, "columnPadding": 6, "rowPadding": -6, "titleFont": "Liberation Sans", "titleFontSize": 21, "titleFontWeight": "bold", "titleColor": "black", "titlePadding": 12, "labelFont": "Liberation Sans", "labelFontSize": 18, "labelColor": "black", "labelOffset": 11, "symbolType": "M-1,-1H1V1H-1Z M-0.68,0H0.68", "symbolSize": 1024, "symbolStrokeWidth": 2, "symbolFillColor": "#c8c8c8", "symbolOpacity": 1}
}
}
